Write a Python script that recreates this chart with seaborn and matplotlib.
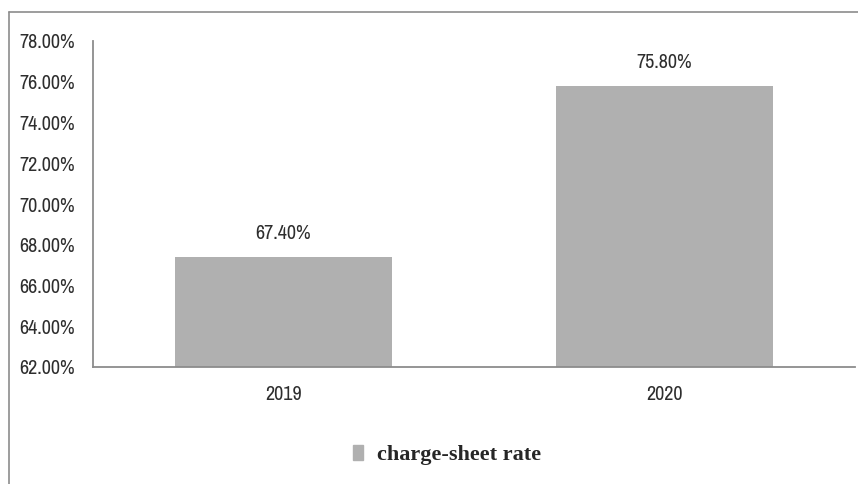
import matplotlib
matplotlib.use("Agg")
import matplotlib.pyplot as plt
import matplotlib.patches as mpatches
from matplotlib.ticker import FuncFormatter, MultipleLocator
import seaborn as sns
import pandas as pd

years = ["2019", "2020"]
rates = [67.40, 75.80]
series_name = "charge-sheet rate"

sns.set_theme(style="white")
plt.rcParams["font.family"] = ["Archivo Narrow", "Asap Condensed", "DejaVu Sans"]

bar_color = "#B0B0B0"
axis_color = "#8C8C8C"
text_color = "#2E2E2E"

df = pd.DataFrame({"year": years, "rate": rates})

fig = plt.figure(figsize=(8.58, 4.84), dpi=100)
ax = fig.add_axes([93 / 858, 1 - 367 / 484, 762 / 858, (367 - 41) / 484])

sns.barplot(data=df, x="year", y="rate", color=bar_color, width=0.57,
            saturation=1, linewidth=0, ax=ax)

ax.set_ylim(62, 78)
ax.yaxis.set_major_locator(MultipleLocator(2))
ax.yaxis.set_major_formatter(FuncFormatter(lambda v, _: f"{v:.2f}%"))
ax.set_xlabel("")
ax.set_ylabel("")
ax.tick_params(axis="both", length=0, labelsize=14.5, colors=text_color)
ax.tick_params(axis="y", pad=13)
ax.tick_params(axis="x", pad=13)

for s in ("top", "right"):
    ax.spines[s].set_visible(False)
for s in ("left", "bottom"):
    ax.spines[s].set_color(axis_color)
    ax.spines[s].set_linewidth(1.3)

for patch, val in zip(ax.patches, rates):
    ax.text(patch.get_x() + patch.get_width() / 2, val + 0.7, f"{val:.2f}%",
            ha="center", va="bottom", fontsize=14.5, color=text_color)

# outer chart frame
fig.add_artist(plt.Line2D([9 / 858, 9 / 858], [0, 1 - 12 / 484],
                          transform=fig.transFigure, color=axis_color, lw=1.2))
fig.add_artist(plt.Line2D([9 / 858, 1], [1 - 12 / 484, 1 - 12 / 484],
                          transform=fig.transFigure, color=axis_color, lw=1.2))

handle = mpatches.Patch(color=bar_color, label=series_name)
fig.legend(handles=[handle], loc="center", bbox_to_anchor=(447 / 858, 1 - 455 / 484),
           frameon=False, handlelength=0.45, handleheight=0.7, handletextpad=0.6,
           prop={"family": ["Liberation Serif"], "weight": "bold", "size": 16})

fig.savefig("out.png", dpi=100, facecolor="white")
